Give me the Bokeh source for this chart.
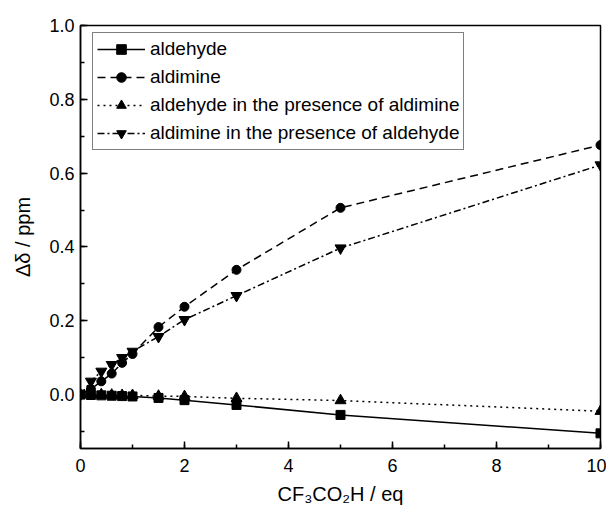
from bokeh.plotting import figure
from bokeh.models import (Range1d, SingleIntervalTicker, NumeralTickFormatter,
                          Legend, LegendItem)
from bokeh.embed import file_html
from bokeh.resources import INLINE

# ---- data ----
x = [0, 0.2, 0.4, 0.6, 0.8, 1.0, 1.5, 2, 3, 5, 10]
aldehyde = [0, -0.001, -0.002, -0.003, -0.004, -0.005, -0.009, -0.015, -0.028, -0.055, -0.105]
aldimine = [0, 0.015, 0.036, 0.057, 0.086, 0.110, 0.183, 0.238, 0.338, 0.506, 0.676]
aldehyde_w_aldimine = [0, 0.002, 0.0, -0.001, -0.002, -0.002, -0.004, -0.005, -0.010, -0.016, -0.045]
aldimine_w_aldehyde = [0, 0.036, 0.063, 0.081, 0.100, 0.117, 0.157, 0.203, 0.268, 0.397, 0.622]

labels = ["aldehyde", "aldimine", "aldehyde in the presence of aldimine",
          "aldimine in the presence of aldehyde"]
x_title = "CF\u2083CO\u2082H / eq"
y_title = "\u0394\u03b4 / ppm"

FONT = "Liberation Sans"

p = figure(width=606, height=507, output_backend="svg", toolbar_location=None,
           x_range=Range1d(0, 10), y_range=Range1d(-0.146, 1.0),
           min_border_left=80, min_border_right=6, min_border_top=25,
           min_border_bottom=58)
p.background_fill_color = "white"
p.border_fill_color = "white"
p.outline_line_color = "black"
p.outline_line_width = 1.5
p.grid.visible = False

p.xaxis.ticker = SingleIntervalTicker(interval=2, num_minor_ticks=2)
p.yaxis.ticker = SingleIntervalTicker(interval=0.2, num_minor_ticks=2)
p.yaxis.formatter = NumeralTickFormatter(format="0.0")
for ax in (p.xaxis, p.yaxis):
    ax.axis_line_color = "black"
    ax.axis_line_width = 1.5
    ax.major_tick_in = 7
    ax.major_tick_out = 0
    ax.minor_tick_in = 4
    ax.minor_tick_out = 0
    ax.major_tick_line_width = 1.5
    ax.minor_tick_line_width = 1.5
    ax.major_label_text_font = FONT
    ax.major_label_text_font_size = "18px"
    ax.major_label_text_color = "black"
    ax.axis_label_text_font = FONT
    ax.axis_label_text_font_style = "normal"
    ax.axis_label_text_color = "black"
    ax.axis_label_text_font_size = "20px"
p.xaxis.major_label_standoff = 10
p.yaxis.major_label_standoff = 6
p.yaxis.axis_label = y_title
p.yaxis.axis_label_standoff = 12
p.xaxis.axis_label = x_title
p.xaxis.axis_label_standoff = 8

lw = 1.5
r1l = p.line(x, aldehyde, line_color="black", line_width=lw)
r1m = p.scatter(x, aldehyde, marker="square", size=9, color="black")
r3l = p.line(x, aldehyde_w_aldimine, line_color="black", line_width=lw, line_dash="2 4")
r3m = p.scatter(x, aldehyde_w_aldimine, marker="triangle", size=11, color="black")
r2l = p.line(x, aldimine, line_color="black", line_width=lw, line_dash="8 5")
r2m = p.scatter(x, aldimine, marker="circle", size=9, color="black")
r4l = p.line(x, aldimine_w_aldehyde, line_color="black", line_width=lw, line_dash="7 3 2 3")
r4m = p.scatter(x, aldimine_w_aldehyde, marker="inverted_triangle", size=11, color="black")

legend = Legend(items=[
    LegendItem(label=labels[0], renderers=[r1l, r1m]),
    LegendItem(label=labels[1], renderers=[r2l, r2m]),
    LegendItem(label=labels[2], renderers=[r3l, r3m]),
    LegendItem(label=labels[3], renderers=[r4l, r4m]),
], location=(12, 298))
legend.border_line_color = "black"
legend.border_line_width = 1.2
legend.background_fill_alpha = 1
legend.label_text_font = FONT
legend.label_text_font_size = "19px"
legend.label_text_color = "black"
legend.glyph_width = 48
legend.glyph_height = 24
legend.label_height = 24
legend.label_standoff = 5
legend.spacing = 4
legend.padding = 4
legend.margin = 0
p.add_layout(legend, "center")

open("out.html", "w").write(file_html(p, INLINE))
